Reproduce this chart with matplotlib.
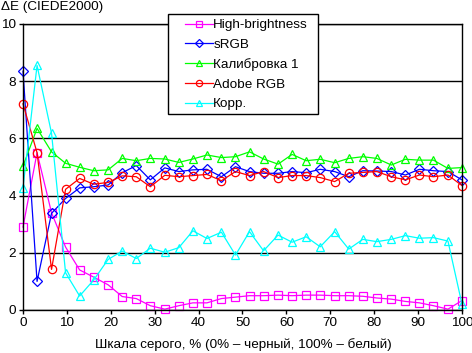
import numpy as np
import matplotlib
matplotlib.use("Agg")
import matplotlib.pyplot as plt
from matplotlib.patches import Rectangle

plt.rcParams['font.family'] = ['Liberation Sans', 'DejaVu Sans']

# --- данные ---
gray = np.array([0, 3.2, 6.5, 9.7, 12.9, 16.1, 19.4, 22.6, 25.8, 29.0, 32.3,
                 35.5, 38.7, 41.9, 45.2, 48.4, 51.6, 54.8, 58.1, 61.3, 64.5,
                 67.7, 71.0, 74.2, 77.4, 80.6, 83.9, 87.1, 90.3, 93.5, 96.8, 100])

high_brightness = [2.9, 5.5, 3.4, 2.2, 1.4, 1.15, 0.88, 0.47, 0.4, 0.15, 0.03,
                   0.15, 0.25, 0.25, 0.4, 0.45, 0.5, 0.5, 0.52, 0.5, 0.52,
                   0.52, 0.5, 0.5, 0.48, 0.42, 0.38, 0.3, 0.25, 0.15, 0.03, 0.33]
srgb = [8.35, 1.0, 3.38, 3.9, 4.27, 4.31, 4.37, 4.8, 5.05, 4.55, 4.97,
        4.84, 4.9, 4.92, 4.66, 5.01, 4.84, 4.78, 4.78, 4.84, 4.8,
        4.92, 4.84, 4.66, 4.87, 4.86, 4.84, 4.72, 4.92, 4.87, 4.84, 4.55]
calib1 = [5.03, 6.35, 5.53, 5.13, 4.99, 4.87, 4.9, 5.3, 5.22, 5.3, 5.28,
          5.16, 5.28, 5.42, 5.33, 5.36, 5.53, 5.28, 5.1, 5.44, 5.22,
          5.27, 5.15, 5.3, 5.36, 5.3, 5.07, 5.27, 5.24, 5.24, 4.95, 4.98]
adobe = [7.21, 5.5, 1.42, 4.22, 4.6, 4.4, 4.46, 4.69, 4.66, 4.31, 4.71,
         4.66, 4.7, 4.74, 4.52, 4.84, 4.7, 4.84, 4.63, 4.7, 4.7,
         4.63, 4.49, 4.78, 4.81, 4.84, 4.66, 4.55, 4.72, 4.66, 4.72, 4.35]
korr = [4.27, 8.55, 6.18, 1.3, 0.49, 1.05, 1.77, 2.06, 1.8, 2.16, 2.02,
        2.18, 2.77, 2.5, 2.72, 1.92, 2.74, 2.07, 2.62, 2.37, 2.56,
        2.21, 2.74, 2.13, 2.47, 2.39, 2.47, 2.6, 2.51, 2.53, 2.41, 0.2]

series = [
    ("High-brightness", high_brightness, "#FF00FF", "s"),
    ("sRGB", srgb, "#0000FF", "D"),
    ("Калибровка 1", calib1, "#00FF00", "^"),
    ("Adobe RGB", adobe, "#FF0000", "o"),
    ("Корр.", korr, "#00FFFF", "^"),
]

FS = 9.7
W, H = 472, 353

fig = plt.figure(figsize=(W / 100, H / 100), dpi=100)
ax = fig.add_axes([23 / W, 1 - 310 / H, 439 / W, 286 / H])

for name, vals, col, mk in series:
    ms = 5.0 if mk == "D" else 6.0
    ax.plot(gray, vals, color=col, lw=0.9, marker=mk, ms=ms,
            mfc="none", mec=col, mew=0.9, label=name, clip_on=False)

ax.set_xlim(0, 100)
ax.set_ylim(0, 10)
ax.set_xticks(np.arange(0, 101, 10))
ax.set_yticks(np.arange(0, 11, 2))
ax.yaxis.grid(True, color="black", lw=1.0)
ax.set_axisbelow(True)
for s in ax.spines.values():
    s.set_color("black")
    s.set_linewidth(1.0)
ax.tick_params(axis="both", labelsize=FS, length=3, width=1.0, color="black", pad=2)

fig.text(1 / W, 1 - 7 / H, "ΔE (CIEDE2000)", fontsize=FS, va="center", ha="left")
fig.text(243 / W, 1 - 345 / H, "Шкала серого, % (0% – черный, 100% – белый)",
         fontsize=FS, va="center", ha="center")

# легенда без рамки + рамка отдельно
leg = ax.legend(loc="upper left", bbox_to_anchor=(185 / W, 1 - 19 / H),
                bbox_transform=fig.transFigure, fontsize=FS, frameon=False,
                handlelength=2.05, borderpad=0, labelspacing=0.53,
                handletextpad=0.05, borderaxespad=0)
for h in leg.legend_handles:
    h.set_markersize(4.5)
leg.set_zorder(10)
box = Rectangle((168 / W, 1 - 114 / H), 150 / W, 100 / H,
                transform=fig.transFigure, fc="white", ec="black",
                lw=1.0, zorder=9, clip_on=False)
ax.add_patch(box)

fig.savefig("out.png", dpi=100)
